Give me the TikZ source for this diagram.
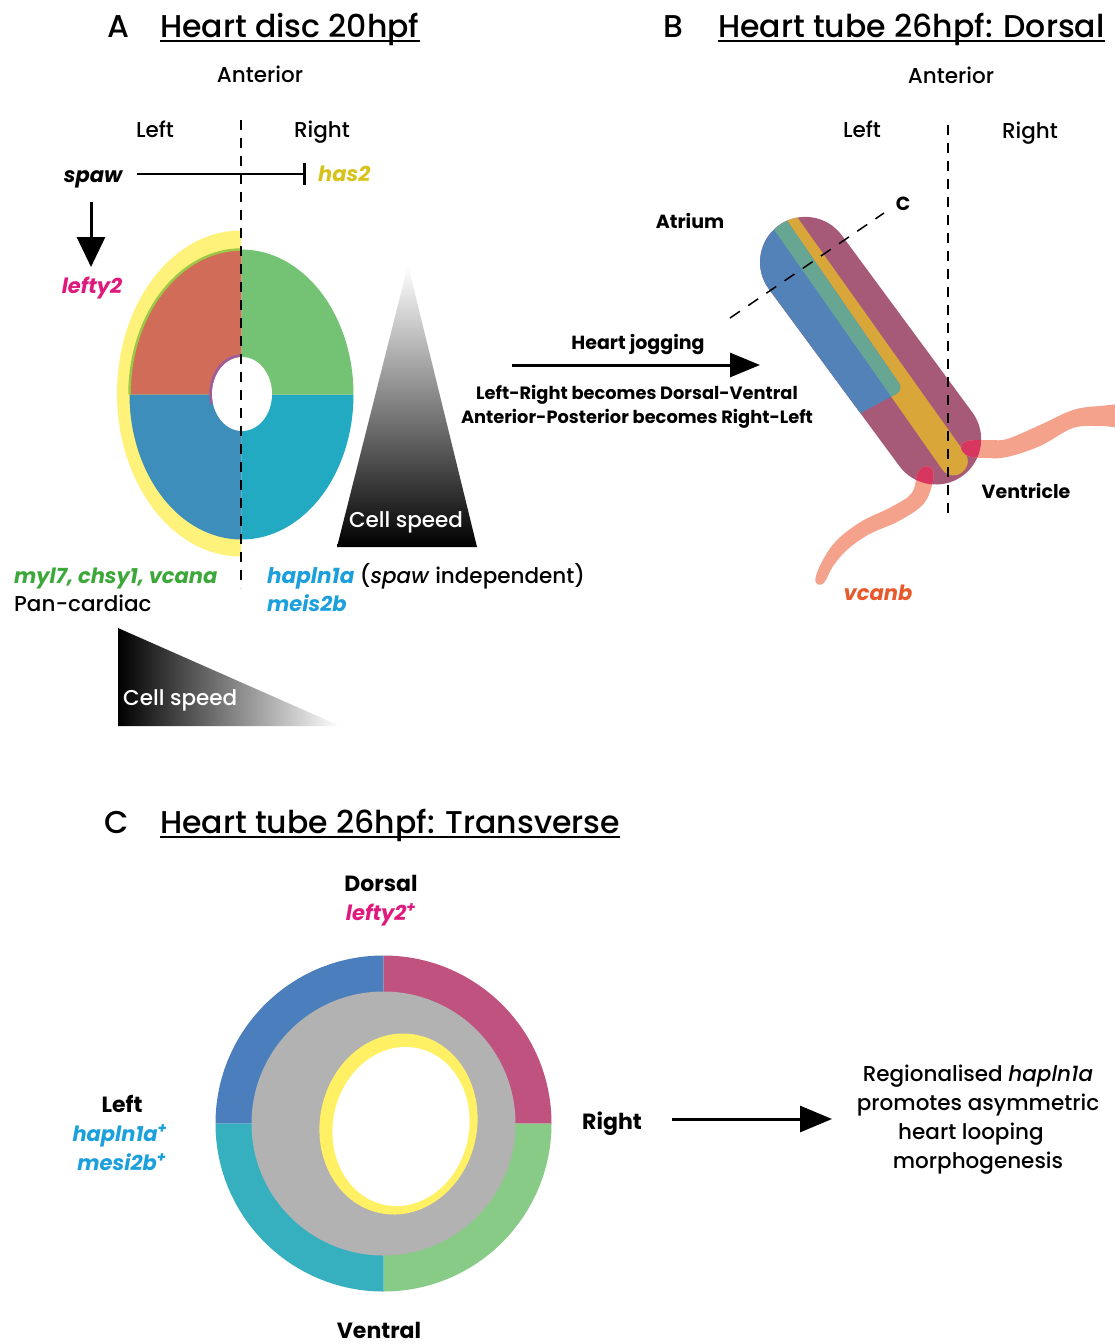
\documentclass[tikz,border=0pt]{standalone}
\usepackage{fontspec}
\setmainfont{Poppins}[UprightFont=* Medium, ItalicFont=* Medium Italic, BoldFont=* Bold, BoldItalicFont=* Bold Italic]
\usetikzlibrary{arrows.meta,calc}

% text colours
\definecolor{magtxt}{HTML}{E0197D}
\definecolor{gtxt}{HTML}{3CA83A}
\definecolor{btxt}{HTML}{1BA0DC}
\definecolor{ytxt}{HTML}{D7C21C}
\definecolor{otxt}{HTML}{E85A2C}
% heart disc
\definecolor{crescent}{HTML}{FFF27A}
\definecolor{qred}{HTML}{D06C58}
\definecolor{qgreen}{HTML}{74C274}
\definecolor{qblue}{HTML}{3E8EBB}
\definecolor{qcyan}{HTML}{22AAC2}
\definecolor{rimgreen}{HTML}{9DC845}
\definecolor{rimpurple}{HTML}{9E5C9C}
% heart tube
\definecolor{tubemag}{HTML}{A65A78}
\definecolor{tubeblue}{HTML}{5282B8}
\definecolor{tubeteal}{HTML}{67A692}
\definecolor{tubeyel}{HTML}{D9A63A}
\definecolor{ribbon}{HTML}{F4A28C}
\definecolor{ribbonin}{HTML}{D7365E}
% transverse ring
\definecolor{rblue}{HTML}{4A7EBC}
\definecolor{rmag}{HTML}{C0527F}
\definecolor{rteal}{HTML}{36B0BF}
\definecolor{rgreen}{HTML}{88CB87}
\definecolor{rgray}{HTML}{B2B2B2}
\definecolor{ryel}{HTML}{FFF064}

\begin{document}
\begin{tikzpicture}[x=1pt,y=1pt,
  titletxt/.style={font=\fontsize{31.5}{38}\selectfont, inner sep=0},
  lbl/.style={font=\fontsize{21.5}{26}\selectfont, inner sep=0},
  lblw/.style={lbl, text=white},
  hv/.style={font=\bfseries\fontsize{19}{23}\selectfont, inner sep=0},
  hvs/.style={font=\bfseries\fontsize{17.8}{22}\selectfont, inner sep=0},
  hvC/.style={font=\bfseries\fontsize{22}{26}\selectfont, inner sep=0},
  gene/.style={font=\bfseries\itshape\fontsize{21}{25}\selectfont, inner sep=0},
  uline/.style={line width=1.8pt},
  axisdash/.style={line width=1.5pt, dash pattern=on 10pt off 8pt},
  cutdash/.style={line width=1.5pt, dash pattern=on 12pt off 10pt},
  bigarrow/.style={line width=3pt, -{Triangle[length=30pt,width=24pt]}},
  tubeframe/.style={shift={(870.6,-350.7)}, rotate=-53.6},
]
\useasboundingbox (0,0) rectangle (1115,-1344);
\fill[white] (0,0) rectangle (1115,-1344);

%% ---------------- A: heart disc ----------------
\node[titletxt, anchor=base] (Alab) at (118,-37) {A};
\node[titletxt, anchor=base west] (Atitle) at (160,-37) {Heart disc 20hpf};
\draw[uline] ([yshift=-4pt]Atitle.base west) -- ([yshift=-4pt]Atitle.base east);
\node[lbl, anchor=base] (Aant) at (260,-82) {Anterior};
\node[lbl, anchor=base] (Aleft) at (155,-137) {Left};
\node[lbl, anchor=base] (Aright) at (322,-137) {Right};

% left crescent
\fill[crescent] (241,-230.5) arc[start angle=90,end angle=270,x radius=124,y radius=163] -- cycle;
% four quadrants
\fill[qred] (241.5,-394.5) -- (241.5,-249.5) arc[start angle=90,end angle=180,x radius=112,y radius=145] -- cycle;
\fill[qblue] (241.5,-394.5) -- (129.5,-394.5) arc[start angle=180,end angle=270,x radius=112,y radius=145] -- cycle;
\fill[qcyan] (241.5,-394.5) -- (241.5,-539.5) arc[start angle=270,end angle=360,x radius=112,y radius=145] -- cycle;
\fill[qgreen] (241.5,-394.5) -- (353.5,-394.5) arc[start angle=0,end angle=90,x radius=112,y radius=145] -- cycle;
\draw[line width=2.5pt, rimgreen] (241.5,-249.5) arc[start angle=90,end angle=180,x radius=112,y radius=145];
% lumen
\fill[white] (242,-394) ellipse[x radius=30,y radius=37];
\draw[line width=2.5pt, rimpurple] (242,-355.5) arc[start angle=90,end angle=195,x radius=31.5,y radius=38.5];
% midline
\draw[axisdash] (241,-120) -- (241,-588);

% spaw signalling
\node[gene, anchor=base] (spaw) at (93,-182) {spaw};
\node[gene, anchor=base west, text=ytxt] (has2) at (318,-181) {has2};
\coordinate (inhS) at (137,-174);
\coordinate (inhE) at (306,-174);
\draw[line width=2.5pt, -{Bar[width=22pt,line width=3pt]}] (inhS) -- (inhE);
\coordinate (actS) at (91,-202);
\coordinate (actE) at (91,-267);
\draw[line width=3pt, -{Triangle[length=30pt,width=28pt]}] (actS) -- (actE);
\node[gene, anchor=base, text=magtxt] (lefty) at (92,-293) {lefty2};

% cell speed gradients
\shade[top color=white, bottom color=black] (408,-265) -- (477,-547) -- (337,-547) -- cycle;
\node[lblw, anchor=base] (speed1) at (406,-527) {Cell speed};
\shade[left color=black, right color=white] (118,-628) -- (118,-726) -- (340,-726) -- cycle;
\node[lblw, anchor=base west] (speed2) at (123,-705) {Cell speed};

\node[gene, anchor=base west, text=gtxt] (myl) at (14,-583) {myl7, chsy1, vcana};
\node[lbl, anchor=base west] (pan) at (14,-611) {Pan-cardiac};
\node[lbl, anchor=base west] (hap) at (267,-583) {\textcolor{btxt}{\bfseries\itshape hapln1a} (\textit{spaw} independent)};
\node[gene, anchor=base west, text=btxt] (meis) at (267,-611) {meis2b};

%% ---------------- B: heart tube, dorsal ----------------
\node[titletxt, anchor=base] (Blab) at (673,-37) {B};
\node[titletxt, anchor=base west] (Btitle) at (718,-37) {Heart tube 26hpf: Dorsal};
\draw[uline] ([yshift=-4pt]Btitle.base west) -- ([yshift=-4pt]Btitle.base east);
\node[lbl, anchor=base] (Bant) at (951,-83) {Anterior};
\node[lbl, anchor=base] (Bleft) at (862,-137) {Left};
\node[lbl, anchor=base] (Bright) at (1030,-138) {Right};

% tube body
\begin{scope}[tubeframe]
  \fill[tubemag, rounded corners=45.3pt] (-155.3,-45.3) rectangle (155.3,45.3);
  \begin{scope}
    \clip[rounded corners=45.3pt] (-155.3,-45.3) rectangle (155.3,45.3);
    \fill[tubeyel] (-170,-5.5) -- (138,-12.8) .. controls (157,-13.3) and (157,15.6) .. (138,15.2) -- (-170,20.5) -- cycle;
    \fill[tubeblue, rounded corners=8pt] (-170,-60) -- (-170,10.3) -- (51,3.3) -- (42.3,-60) -- cycle;
    \begin{scope}
      \clip (-170,-5.5) -- (138,-12.8) -- (138,15.2) -- (-170,20.5) -- cycle;
      \fill[tubeteal, rounded corners=8pt] (-170,-60) -- (-170,10.3) -- (51,3.3) -- (42.3,-60) -- cycle;
    \end{scope}
  \end{scope}
\end{scope}

% vcanb ribbons leaving the ventricle
\def\lowerribbon{plot[smooth cycle, tension=0.6] coordinates {(933.6,-476.5) (924.4,-502.8) (899,-520.9) (868.8,-534.4) (846.9,-550) (833.1,-566.1) (824.5,-582.1) (817.9,-584.5) (815.5,-577.9) (822.9,-559.9) (837.1,-540) (861.2,-521.6) (891,-507.1) (911.6,-493.2) (918.4,-471.5) (928.5,-466.4)}}
\def\rightribbon{plot[smooth cycle, tension=0.6] coordinates {(967,-441) (990,-440) (1007,-439) (1040,-425) (1073,-410) (1100,-406) (1125,-406) (1125,-426) (1100,-426) (1073,-428) (1040,-446) (1007,-457) (985,-458) (968,-456) (961,-448)}}
\fill[ribbon] \lowerribbon;
\fill[ribbon] \rightribbon;
\begin{scope}
  \clip[tubeframe, rounded corners=45.3pt] (-155.3,-45.3) rectangle (155.3,45.3);
  \fill[ribbonin] \lowerribbon;
  \fill[ribbonin] \rightribbon;
\end{scope}

% section line and midline
\node[hv, anchor=base] (secC) at (903,-210) {C};
\coordinate (cutS) at (730,-318);
\coordinate (cutE) at (884,-213);
\draw[cutdash] (cutS) -- (cutE);
\draw[axisdash] (948,-125) -- (948,-515);

\node[hv, anchor=base] (atrium) at (690,-228) {Atrium};
\node[hv, anchor=base] (vent) at (1026,-498) {Ventricle};
\node[gene, anchor=base, text=otxt] (vcanb) at (878,-600) {vcanb};

% jogging transition
\node[hv, anchor=base] (jog) at (638,-349) {Heart jogging};
\coordinate (jogS) at (512,-365);
\coordinate (jogE) at (760,-365);
\draw[bigarrow] (jogS) -- (jogE);
\node[hvs, anchor=base] (rule1) at (637,-399) {Left-Right becomes Dorsal-Ventral};
\node[hvs, anchor=base] (rule2) at (637,-423) {Anterior-Posterior becomes Right-Left};

%% ---------------- C: heart tube, transverse ----------------
\node[titletxt, anchor=base] (Clab) at (117,-833) {C};
\node[titletxt, anchor=base west] (Ctitle) at (160,-833) {Heart tube 26hpf: Transverse};
\draw[uline] ([yshift=-4pt]Ctitle.base west) -- ([yshift=-4pt]Ctitle.base east);

\node[hvC, anchor=base] (dors) at (381,-891) {Dorsal};
\node[gene, anchor=base, text=magtxt] (lefC) at (381,-920) {lefty2\textsuperscript{+}};

\coordinate (ring) at (383.5,-1123.5);
\fill[rblue] (ring) -- ++(180:168) arc[start angle=180,end angle=90,radius=168] -- cycle;
\fill[rmag] (ring) -- ++(90:168) arc[start angle=90,end angle=0,radius=168] -- cycle;
\fill[rgreen] (ring) -- ++(0:168) arc[start angle=0,end angle=-90,radius=168] -- cycle;
\fill[rteal] (ring) -- ++(270:168) arc[start angle=270,end angle=180,radius=168] -- cycle;
\fill[rgray] (ring) circle[radius=132];
\fill[ryel, rotate around={-12:(398.5,-1124)}] (398.5,-1124) ellipse[x radius=78.5,y radius=91];
\fill[white, rotate around={-12:(401,-1126.5)}] (401,-1126.5) ellipse[x radius=68,y radius=80];

\node[hvC, anchor=base] (leftC) at (122,-1112) {Left};
\node[gene, anchor=base, text=btxt] (hapC) at (120,-1141) {hapln1a\textsuperscript{+}};
\node[gene, anchor=base, text=btxt] (meisC) at (122,-1170) {mesi2b\textsuperscript{+}};
\node[hvC, anchor=base] (rightC) at (612,-1129) {Right};
\node[hvC, anchor=base] (ventC) at (379,-1338) {Ventral};

\coordinate (resS) at (672,-1119);
\coordinate (resE) at (832,-1119);
\draw[line width=3pt, -{Triangle[length=32pt,width=26pt]}] (resS) -- (resE);

\node[lbl, anchor=base] (res1) at (978,-1081) {Regionalised \textit{hapln1a}};
\node[lbl, anchor=base] (res2) at (978,-1110) {promotes asymmetric};
\node[lbl, anchor=base] (res3) at (971,-1139) {heart looping};
\node[lbl, anchor=base] (res4) at (978,-1168) {morphogenesis};
\end{tikzpicture}
\end{document}
